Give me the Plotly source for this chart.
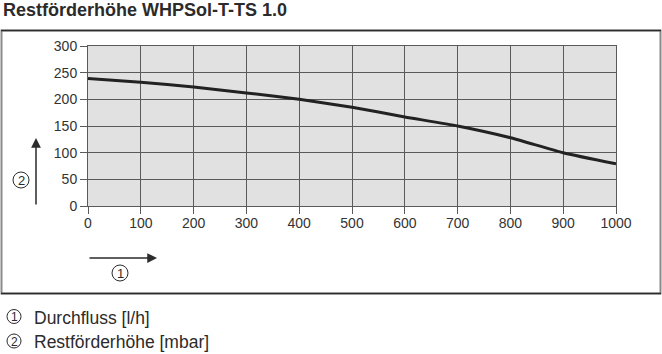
import plotly.graph_objects as go

# Data
flow = [0, 100, 200, 300, 400, 500, 600, 700, 800, 900, 1000]          # l/h
head = [239, 232, 223, 212, 200, 185, 167, 150, 128, 100, 79]          # mbar
x_ticks = [0, 100, 200, 300, 400, 500, 600, 700, 800, 900, 1000]
y_ticks = [0, 50, 100, 150, 200, 250, 300]
title_text = "Restförderhöhe WHPSol-T-TS 1.0"
legend_items = ["Durchfluss [l/h]", "Restförderhöhe [mbar]"]

W, H = 662, 354
L, R, T, B = 88, 46, 46, 148
PW, PH = W - L - R, H - T - B

def px(x):
    return (x - L) / PW

def py(y):
    return (H - B - y) / PH

FONT = "Liberation Sans, Arial, sans-serif"
DARK = "#2b2b2b"
GRID = "#5a5a5a"

fig = go.Figure()
fig.add_trace(go.Scatter(x=flow, y=head, mode="lines",
                         line=dict(color="#222222", width=3, shape="spline", smoothing=0.5),
                         hoverinfo="skip", showlegend=False))

axis_common = dict(showgrid=True, gridcolor=GRID, gridwidth=1, showline=True,
                   linecolor=GRID, linewidth=1, mirror=True, ticks="outside",
                   ticklen=7, tickcolor=GRID, tickwidth=1, zeroline=False,
                   tickfont=dict(family=FONT, size=14, color="#333"))

fig.update_xaxes(range=[0, 1000], tickvals=x_ticks, ticktext=[str(v) for v in x_ticks],
                 ticklabelstandoff=-3, **axis_common)
fig.update_yaxes(range=[0, 300], tickvals=y_ticks, ticktext=[str(v) for v in y_ticks],
                 **axis_common)

shapes = []
annotations = []

# outer frame
shapes.append(dict(type="rect", xref="paper", yref="paper",
                   x0=px(1.5), x1=px(660.5), y0=py(293.5), y1=py(30.5),
                   line=dict(color="#8a8a8a", width=2), layer="below"))
shapes.append(dict(type="line", xref="paper", yref="paper",
                   x0=px(1), x1=px(661), y0=py(30.5), y1=py(30.5),
                   line=dict(color=DARK, width=1.5)))
shapes.append(dict(type="line", xref="paper", yref="paper",
                   x0=px(1), x1=px(661), y0=py(293.5), y1=py(293.5),
                   line=dict(color=DARK, width=1.5)))

def circled(cx, cy, d, label, size):
    shapes.append(dict(type="circle", xref="paper", yref="paper",
                       x0=px(cx - d / 2), x1=px(cx + d / 2),
                       y0=py(cy + d / 2), y1=py(cy - d / 2),
                       line=dict(color=DARK, width=1)))
    annotations.append(dict(xref="paper", yref="paper", x=px(cx), y=py(cy + 0.5),
                            text=label, showarrow=False, xanchor="center", yanchor="middle",
                            font=dict(family=FONT, size=size, color=DARK)))

# axis direction arrows
annotations.append(dict(xref="paper", yref="paper", x=px(36), y=py(138),
                        ax=0, ay=68, axref="pixel", ayref="pixel", text="",
                        showarrow=True, arrowhead=2, arrowsize=1.3, arrowwidth=1.5,
                        arrowcolor=DARK))
annotations.append(dict(xref="paper", yref="paper", x=px(157), y=py(258),
                        ax=-69, ay=0, axref="pixel", ayref="pixel", text="",
                        showarrow=True, arrowhead=2, arrowsize=1.3, arrowwidth=1.5,
                        arrowcolor=DARK))
circled(21, 180, 16, "2", 13)
circled(120, 273, 16, "1", 13)

# legend
circled(14, 316.5, 14, "1", 12)
circled(14, 341, 14, "2", 12)
annotations.append(dict(xref="paper", yref="paper", x=px(32), y=py(317.5),
                        text=legend_items[0], showarrow=False, xanchor="left",
                        yanchor="middle", font=dict(family=FONT, size=17.5, color=DARK)))
annotations.append(dict(xref="paper", yref="paper", x=px(32), y=py(342),
                        text=legend_items[1], showarrow=False, xanchor="left",
                        yanchor="middle", font=dict(family=FONT, size=17.5, color=DARK)))

# title
annotations.append(dict(xref="paper", yref="paper", x=px(1), y=py(10),
                        text="<b>" + title_text + "</b>", showarrow=False, xanchor="left",
                        yanchor="middle", font=dict(family=FONT, size=18, color=DARK)))

fig.update_layout(width=W, height=H, autosize=False,
                  margin=dict(l=L, r=R, t=T, b=B, pad=0),
                  paper_bgcolor="white", plot_bgcolor="#e1e1e1",
                  shapes=shapes, annotations=annotations, showlegend=False)

fig.write_html("out.html", config={"displayModeBar": False})
